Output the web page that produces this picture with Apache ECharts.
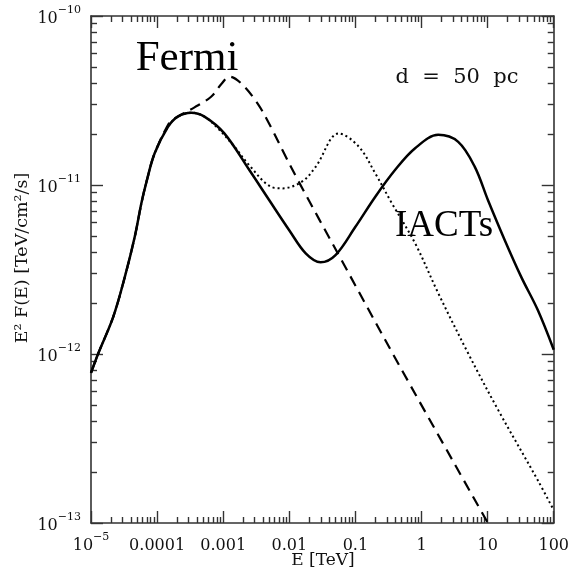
<!DOCTYPE html>
<html>
<head>
<meta charset="utf-8">
<script src="https://cdn.jsdelivr.net/npm/echarts@6/dist/echarts.min.js"></script>
<style>
  html, body { margin: 0; padding: 0; background: #ffffff; }
  #chart { width: 572px; height: 582px; }
</style>
</head>
<body>
<div id="chart"></div>
<script>
// Spectral energy distributions, E^2 F(E) in TeV/cm^2/s against E in TeV

// Solid curve
const energySolid = [1.0e-5, 1.29e-5, 2.17e-5, 3.25e-5, 4.59e-5, 5.79e-5, 6.89e-5, 9.18e-5,
  1.46e-4, 2.06e-4, 3.28e-4, 5.20e-4, 1.04e-3, 2.47e-3, 4.95e-3, 9.91e-3, 1.77e-2, 2.97e-2,
  5.00e-2, 0.100, 0.200, 0.400, 0.800, 1.79, 3.59, 6.40, 10.1, 18.1, 32.2, 57.4, 100];
const fluxSolid = [7.73e-13, 1.01e-12, 1.66e-12, 2.86e-12, 4.94e-12, 7.82e-12, 1.04e-11, 1.54e-11,
  2.21e-11, 2.54e-11, 2.68e-11, 2.54e-11, 2.02e-11, 1.23e-11, 8.15e-12, 5.42e-12, 3.94e-12, 3.49e-12,
  3.85e-12, 5.66e-12, 8.53e-12, 1.23e-11, 1.65e-11, 1.98e-11, 1.80e-11, 1.28e-11, 8.15e-12, 4.73e-12,
  2.86e-12, 1.82e-12, 1.06e-12];

// Dashed curve
const energyDashed = [1.0e-5, 1.29e-5, 2.17e-5, 3.25e-5, 4.59e-5, 5.79e-5, 6.89e-5, 9.18e-5,
  1.55e-4, 1.84e-4, 3.68e-4, 6.56e-4, 9.38e-4, 1.24e-3, 1.86e-3, 3.30e-3, 5.24e-3, 8.32e-3,
  1.40e-2, 5.60e-2, 0.448, 10.1];
const fluxDashed = [7.73e-13, 1.01e-12, 1.66e-12, 2.86e-12, 4.94e-12, 7.82e-12, 1.04e-11, 1.54e-11,
  2.36e-11, 2.48e-11, 2.88e-11, 3.33e-11, 3.96e-11, 4.38e-11, 4.00e-11, 3.04e-11, 2.21e-11, 1.54e-11,
  1.04e-11, 3.85e-12, 8.73e-13, 1.0e-13];

// Dotted curve
const energyDotted = [1.0e-5, 1.29e-5, 2.17e-5, 3.25e-5, 4.59e-5, 5.79e-5, 6.89e-5, 9.18e-5,
  1.46e-4, 2.06e-4, 3.28e-4, 5.20e-4, 8.24e-4, 1.47e-3, 2.47e-3, 5.25e-3, 7.85e-3, 1.57e-2,
  2.50e-2, 5.60e-2, 0.112, 0.200, 0.356, 0.800, 1.79, 5.07, 14.4, 57.4, 100];
const fluxDotted = [7.73e-13, 1.01e-12, 1.66e-12, 2.86e-12, 4.94e-12, 7.82e-12, 1.04e-11, 1.54e-11,
  2.21e-11, 2.54e-11, 2.68e-11, 2.54e-11, 2.17e-11, 1.69e-11, 1.31e-11, 9.77e-12, 9.55e-12, 1.05e-11,
  1.28e-11, 2.02e-11, 1.69e-11, 1.17e-11, 7.80e-12, 4.52e-12, 2.29e-12, 1.01e-12, 4.67e-13, 1.79e-13,
  1.19e-13];

// Axis ticks and their labels ("^" marks an exponent)
const xTickValues = [1e-5, 1e-4, 1e-3, 1e-2, 1e-1, 1, 10, 100];
const xTickLabels = ['10^−5', '0.0001', '0.001', '0.01', '0.1', '1', '10', '100'];
const yTickValues = [1e-13, 1e-12, 1e-11, 1e-10];
const yTickLabels = ['10^−13', '10^−12', '10^−11', '10^−10'];

// Annotations
const xTitle = 'E [TeV]';
const yTitle = 'E² F(E) [TeV/cm²/s]';
const distanceNote = 'd  =  50  pc';
const fermiNote = 'Fermi';
const iactNote = 'IACTs';

const AXIS_COLOR = '#333333';
const LABEL_FONT = '"DejaVu Serif", serif';
const NOTE_FONT = '"Liberation Serif", "Times New Roman", serif';

const X_MIN = xTickValues[0], X_MAX = xTickValues[xTickValues.length - 1];
const Y_MIN = yTickValues[0], Y_MAX = yTickValues[yTickValues.length - 1];

const richLabel = {
  b: { fontFamily: LABEL_FONT, fontSize: 16, color: '#111', lineHeight: 22, verticalAlign: 'bottom' },
  s: { fontFamily: LABEL_FONT, fontSize: 11, color: '#111', lineHeight: 11, verticalAlign: 'top' }
};

function formatTick(label) {
  const parts = label.split('^');
  return parts.length > 1 ? '{b|' + parts[0] + '}{s|' + parts[1] + '}' : '{b|' + parts[0] + '}';
}

// Log axis: a long tick per decade, nine minor steps per decade land on 2..9
function logAxis(position, min, max, tickValues, labels, margin) {
  const ax = {
    type: 'log', logBase: 10, min: min, max: max, position: position,
    axisLine: { show: true, onZero: false, lineStyle: { color: AXIS_COLOR, width: 1.6 } },
    axisTick: { show: true, inside: true, length: 12, lineStyle: { color: AXIS_COLOR, width: 1.4 } },
    minorTick: { show: true, splitNumber: 9, length: 6, lineStyle: { color: AXIS_COLOR, width: 1.4 } },
    splitLine: { show: false },
    minorSplitLine: { show: false },
    axisLabel: { show: false }
  };
  if (labels) {
    ax.axisLabel = {
      show: true,
      margin: margin,
      formatter: function (v) {
        const idx = tickValues.findIndex(t => Math.abs(Math.log10(t) - Math.log10(v)) < 1e-6);
        return idx >= 0 ? formatTick(labels[idx]) : '';
      },
      rich: richLabel
    };
  }
  return ax;
}

function pairs(xs, ys) { return xs.map((x, i) => [x, ys[i]]); }

const chart = echarts.init(document.getElementById('chart'));

chart.setOption({
  animation: false,
  grid: { left: 91, right: 16, top: 16, bottom: 59 },
  xAxis: [
    logAxis('bottom', X_MIN, X_MAX, xTickValues, xTickLabels, 9),
    logAxis('top', X_MIN, X_MAX)
  ],
  yAxis: [
    logAxis('left', Y_MIN, Y_MAX, yTickValues, yTickLabels, 10),
    logAxis('right', Y_MIN, Y_MAX)
  ],
  series: [
    {
      type: 'line', xAxisIndex: 0, yAxisIndex: 0, data: pairs(energyDashed, fluxDashed),
      showSymbol: false, smooth: 0.35, silent: true,
      lineStyle: { color: '#000', width: 2.2, type: [11, 7] }
    },
    {
      type: 'line', xAxisIndex: 0, yAxisIndex: 0, data: pairs(energyDotted, fluxDotted),
      showSymbol: false, smooth: 0.35, silent: true,
      lineStyle: { color: '#000', width: 2, type: [2, 3] }
    },
    {
      type: 'line', xAxisIndex: 0, yAxisIndex: 0, data: pairs(energySolid, fluxSolid),
      showSymbol: false, smooth: 0.35, silent: true,
      lineStyle: { color: '#000', width: 2.5, type: 'solid' }
    }
  ],
  graphic: [
    { type: 'text', x: 323, y: 561, silent: true,
      style: { text: xTitle, fill: '#111', font: '17px ' + LABEL_FONT, align: 'center', verticalAlign: 'middle' } },
    { type: 'text', x: 22, y: 258, rotation: Math.PI / 2, silent: true,
      style: { text: yTitle, fill: '#111', font: '17.5px ' + LABEL_FONT, align: 'center', verticalAlign: 'middle' } },
    { type: 'text', x: 457, y: 78, silent: true,
      style: { text: distanceNote, fill: '#111', font: '21px ' + LABEL_FONT, align: 'center', verticalAlign: 'middle' } },
    { type: 'text', x: 187, y: 59, silent: true,
      style: { text: fermiNote, fill: '#000', font: '43px ' + NOTE_FONT, align: 'center', verticalAlign: 'middle' } },
    { type: 'text', x: 444, y: 226, silent: true,
      style: { text: iactNote, fill: '#000', font: '37px ' + NOTE_FONT, align: 'center', verticalAlign: 'middle' } }
  ]
});
</script>
</body>
</html>
